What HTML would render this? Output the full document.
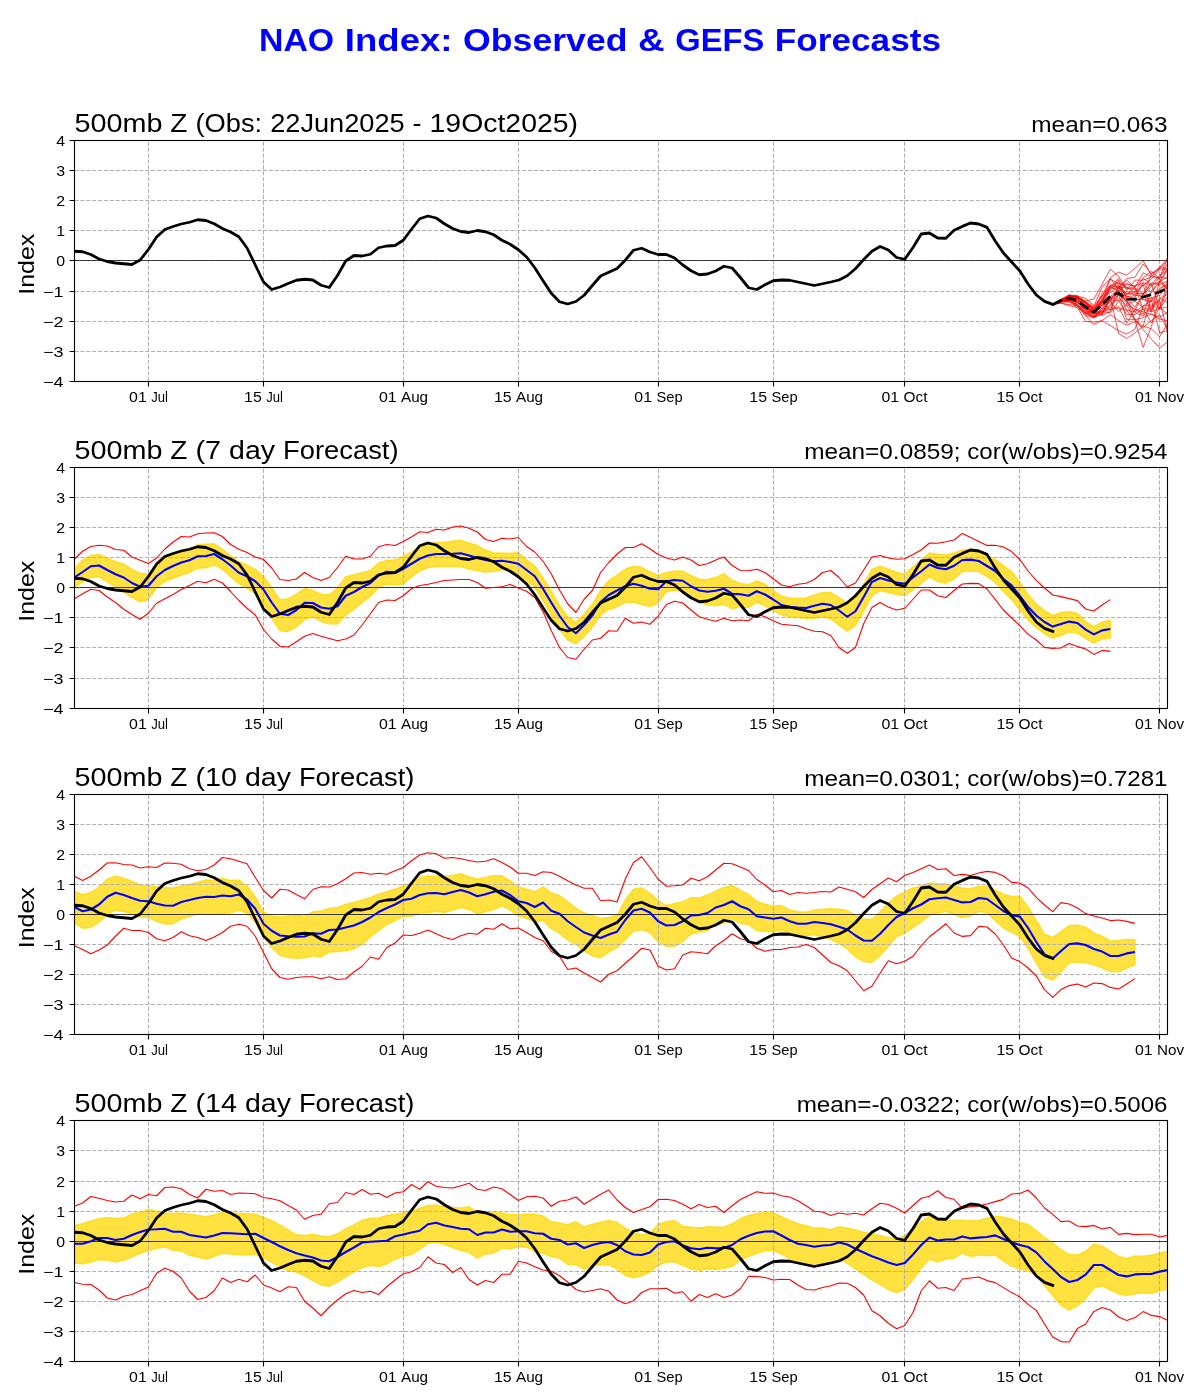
<!DOCTYPE html>
<html lang="en">
<head>
<meta charset="utf-8">
<title>NAO Index: Observed &amp; GEFS Forecasts</title>
<style>
html,body{margin:0;padding:0;background:#fff;}
body{width:1200px;height:1400px;overflow:hidden;font-family:"Liberation Sans",sans-serif;}
svg{display:block;will-change:transform;}
svg text{font-family:"Liberation Sans",sans-serif;}
</style>
</head>
<body>
<svg width="1200" height="1400" viewBox="0 0 1200 1400" font-family="Liberation Sans, sans-serif">
<rect width="1200" height="1400" fill="#fff"/>
<text y="51" font-size="31.47" font-weight="bold" fill="#0000ff"><tspan x="259.01" textLength="75.2" lengthAdjust="spacingAndGlyphs">NAO</tspan> <tspan x="344.84" textLength="107.65" lengthAdjust="spacingAndGlyphs">Index:</tspan> <tspan x="463.13" textLength="164.34" lengthAdjust="spacingAndGlyphs">Observed</tspan> <tspan x="638.1" textLength="26.65" lengthAdjust="spacingAndGlyphs">&amp;</tspan> <tspan x="675.39" textLength="88.83" lengthAdjust="spacingAndGlyphs">GEFS</tspan> <tspan x="774.86" textLength="166.13" lengthAdjust="spacingAndGlyphs">Forecasts</tspan></text>
<g>
<clipPath id="c0"><rect x="74.5" y="140.5" width="1093" height="241"/></clipPath>
<path d="M148.5 381.5 V140.5 M263.5 381.5 V140.5 M403.5 381.5 V140.5 M518.5 381.5 V140.5 M658.5 381.5 V140.5 M773.5 381.5 V140.5 M904.5 381.5 V140.5 M1019.5 381.5 V140.5 M1159.5 381.5 V140.5 M74.5 170.5H1167.5 M74.5 200.5H1167.5 M74.5 230.5H1167.5 M74.5 260.5H1167.5 M74.5 291.5H1167.5 M74.5 321.5H1167.5 M74.5 351.5H1167.5" stroke="#b0b0b0" stroke-width="1.11" stroke-dasharray="4.11 1.78" fill="none"/>
<path d="M74.5 260.5H1167.5" stroke="#000" stroke-width="0.72" fill="none"/>
<g clip-path="url(#c0)" fill="none" stroke-linejoin="round">
<path d="M1052.76 304.4 L1060.98 300.2 L1069.2 296.12 L1077.42 298.68 L1085.64 306.62 L1093.87 315.72 L1102.09 301.93 L1110.31 286.53 L1118.53 291.71 L1126.75 301.58 L1134.97 312.68 L1143.2 316.03 L1151.42 306.13 L1159.64 300.06 L1167.86 333.62" stroke="#ff0000" stroke-width="0.7"/>
<path d="M1052.76 304.4 L1060.98 299.4 L1069.2 296.26 L1077.42 297.65 L1085.64 303.26 L1093.87 308.77 L1102.09 302.54 L1110.31 300.27 L1118.53 291.78 L1126.75 283.19 L1134.97 287.34 L1143.2 272.75 L1151.42 276.57 L1159.64 266.64 L1167.86 268.97" stroke="#ff0000" stroke-width="0.7"/>
<path d="M1052.76 304.4 L1060.98 301.79 L1069.2 300.9 L1077.42 299.14 L1085.64 304.88 L1093.87 312.53 L1102.09 305.33 L1110.31 300.07 L1118.53 295.08 L1126.75 291.19 L1134.97 295.22 L1143.2 284.71 L1151.42 310.09 L1159.64 298.18 L1167.86 302.66" stroke="#ff0000" stroke-width="0.7"/>
<path d="M1052.76 304.4 L1060.98 301.76 L1069.2 299.71 L1077.42 304.87 L1085.64 313.13 L1093.87 317.28 L1102.09 308.07 L1110.31 309.37 L1118.53 306.63 L1126.75 323.19 L1134.97 309.17 L1143.2 311.84 L1151.42 314.56 L1159.64 317.42 L1167.86 311.93" stroke="#ff0000" stroke-width="0.7"/>
<path d="M1052.76 304.4 L1060.98 299.37 L1069.2 296.81 L1077.42 301.53 L1085.64 309.31 L1093.87 315.55 L1102.09 312.09 L1110.31 304.54 L1118.53 294.6 L1126.75 301.63 L1134.97 310.54 L1143.2 293.61 L1151.42 284.09 L1159.64 308.95 L1167.86 296.35" stroke="#ff0000" stroke-width="0.7"/>
<path d="M1052.76 304.4 L1060.98 303.07 L1069.2 304.62 L1077.42 305.62 L1085.64 314 L1093.87 317.63 L1102.09 307.44 L1110.31 299.99 L1118.53 300.47 L1126.75 314.56 L1134.97 314.41 L1143.2 309.05 L1151.42 322.9 L1159.64 307.26 L1167.86 314.34" stroke="#ff0000" stroke-width="0.7"/>
<path d="M1052.76 304.4 L1060.98 299.21 L1069.2 296.41 L1077.42 299.26 L1085.64 309.78 L1093.87 309.48 L1102.09 301.36 L1110.31 296.72 L1118.53 289.13 L1126.75 280.26 L1134.97 287.61 L1143.2 309.25 L1151.42 311.93 L1159.64 290.26 L1167.86 281.09" stroke="#ff0000" stroke-width="0.7"/>
<path d="M1052.76 304.4 L1060.98 303.14 L1069.2 305.72 L1077.42 307.52 L1085.64 321.49 L1093.87 322.13 L1102.09 320.77 L1110.31 325.46 L1118.53 330.76 L1126.75 334.05 L1134.97 329.1 L1143.2 305.68 L1151.42 305.02 L1159.64 308.89 L1167.86 306.76" stroke="#ff0000" stroke-width="0.7"/>
<path d="M1052.76 304.4 L1060.98 300.55 L1069.2 297.08 L1077.42 299.12 L1085.64 305.95 L1093.87 313.2 L1102.09 302.01 L1110.31 290.75 L1118.53 279.89 L1126.75 298.69 L1134.97 306.93 L1143.2 294.43 L1151.42 286.84 L1159.64 277.11 L1167.86 278.5" stroke="#ff0000" stroke-width="0.7"/>
<path d="M1052.76 304.4 L1060.98 301.81 L1069.2 296.89 L1077.42 304.4 L1085.64 313.23 L1093.87 313.1 L1102.09 314.62 L1110.31 296.81 L1118.53 333.46 L1126.75 338.5 L1134.97 332.87 L1143.2 325.98 L1151.42 297.3 L1159.64 308.78 L1167.86 288.93" stroke="#ff0000" stroke-width="0.7"/>
<path d="M1052.76 304.4 L1060.98 299.48 L1069.2 297.29 L1077.42 296.35 L1085.64 298.22 L1093.87 305.56 L1102.09 297 L1110.31 277.75 L1118.53 272.02 L1126.75 275.26 L1134.97 268.19 L1143.2 260.61 L1151.42 275.33 L1159.64 278.8 L1167.86 290.51" stroke="#ff0000" stroke-width="0.7"/>
<path d="M1052.76 304.4 L1060.98 299.74 L1069.2 295.37 L1077.42 295.53 L1085.64 303.65 L1093.87 313.46 L1102.09 311.83 L1110.31 312.65 L1118.53 301.55 L1126.75 293.97 L1134.97 291.77 L1143.2 285.21 L1151.42 279.08 L1159.64 269.02 L1167.86 259.74" stroke="#ff0000" stroke-width="0.7"/>
<path d="M1052.76 304.4 L1060.98 301.44 L1069.2 299.21 L1077.42 302.11 L1085.64 311.68 L1093.87 311.5 L1102.09 295.54 L1110.31 292.94 L1118.53 286.03 L1126.75 303.82 L1134.97 301.28 L1143.2 307.41 L1151.42 310.51 L1159.64 281.6 L1167.86 289.43" stroke="#ff0000" stroke-width="0.7"/>
<path d="M1052.76 304.4 L1060.98 299.92 L1069.2 297.85 L1077.42 301.19 L1085.64 302.41 L1093.87 306.41 L1102.09 286.96 L1110.31 279.16 L1118.53 283.51 L1126.75 284.81 L1134.97 285.72 L1143.2 283.34 L1151.42 292.54 L1159.64 281.8 L1167.86 270.42" stroke="#ff0000" stroke-width="0.7"/>
<path d="M1052.76 304.4 L1060.98 302.11 L1069.2 301.45 L1077.42 304.29 L1085.64 312.54 L1093.87 317.02 L1102.09 313.72 L1110.31 297.58 L1118.53 293.63 L1126.75 319.65 L1134.97 319.71 L1143.2 317.59 L1151.42 313.63 L1159.64 319.1 L1167.86 320.89" stroke="#ff0000" stroke-width="0.7"/>
<path d="M1052.76 304.4 L1060.98 299.85 L1069.2 296.24 L1077.42 297.38 L1085.64 302.03 L1093.87 310.33 L1102.09 293.22 L1110.31 285.47 L1118.53 282.64 L1126.75 287.62 L1134.97 289.09 L1143.2 299.64 L1151.42 297.92 L1159.64 295.45 L1167.86 283.27" stroke="#ff0000" stroke-width="0.7"/>
<path d="M1052.76 304.4 L1060.98 299.96 L1069.2 296.2 L1077.42 297.68 L1085.64 302.28 L1093.87 312.59 L1102.09 310.99 L1110.31 301.59 L1118.53 311.58 L1126.75 304.34 L1134.97 309.13 L1143.2 314.51 L1151.42 290.66 L1159.64 281.55 L1167.86 276.52" stroke="#ff0000" stroke-width="0.7"/>
<path d="M1052.76 304.4 L1060.98 302.13 L1069.2 299.94 L1077.42 301.61 L1085.64 307.35 L1093.87 312.59 L1102.09 299.2 L1110.31 288.69 L1118.53 283.77 L1126.75 299.14 L1134.97 320.91 L1143.2 347.41 L1151.42 326.46 L1159.64 298.63 L1167.86 294.09" stroke="#ff0000" stroke-width="0.7"/>
<path d="M1052.76 304.4 L1060.98 301.45 L1069.2 302.25 L1077.42 306.04 L1085.64 308.37 L1093.87 313.65 L1102.09 311.52 L1110.31 309.42 L1118.53 308.07 L1126.75 310.1 L1134.97 311.91 L1143.2 305.96 L1151.42 299.98 L1159.64 332.77 L1167.86 330.62" stroke="#ff0000" stroke-width="0.7"/>
<path d="M1052.76 304.4 L1060.98 299.77 L1069.2 294.65 L1077.42 298 L1085.64 302.17 L1093.87 307.54 L1102.09 296.05 L1110.31 285.48 L1118.53 287.97 L1126.75 287.06 L1134.97 292.6 L1143.2 277.86 L1151.42 271.17 L1159.64 278.5 L1167.86 262.78" stroke="#ff0000" stroke-width="0.7"/>
<path d="M1052.76 304.4 L1060.98 300.05 L1069.2 298.84 L1077.42 305.65 L1085.64 315.5 L1093.87 317.29 L1102.09 309.21 L1110.31 299.67 L1118.53 287.7 L1126.75 294.21 L1134.97 294.05 L1143.2 293.17 L1151.42 311.93 L1159.64 308.04 L1167.86 283.02" stroke="#ff0000" stroke-width="0.7"/>
<path d="M1052.76 304.4 L1060.98 299.58 L1069.2 295.77 L1077.42 296.25 L1085.64 301.55 L1093.87 312.36 L1102.09 299.43 L1110.31 287.37 L1118.53 289.95 L1126.75 296.73 L1134.97 295.71 L1143.2 295.1 L1151.42 273.71 L1159.64 268.82 L1167.86 270.15" stroke="#ff0000" stroke-width="0.7"/>
<path d="M1052.76 304.4 L1060.98 301.66 L1069.2 300.21 L1077.42 302.21 L1085.64 310.38 L1093.87 318.1 L1102.09 313.28 L1110.31 299.45 L1118.53 290.61 L1126.75 310.82 L1134.97 319.76 L1143.2 326.03 L1151.42 328.91 L1159.64 336.91 L1167.86 322.54" stroke="#ff0000" stroke-width="0.7"/>
<path d="M1052.76 304.4 L1060.98 299.26 L1069.2 296.61 L1077.42 297.4 L1085.64 302.73 L1093.87 308.44 L1102.09 305.56 L1110.31 287.4 L1118.53 278.59 L1126.75 290.05 L1134.97 280.14 L1143.2 280.17 L1151.42 276.98 L1159.64 277.48 L1167.86 257.7" stroke="#ff0000" stroke-width="0.7"/>
<path d="M1052.76 304.4 L1060.98 301.43 L1069.2 299.62 L1077.42 308.36 L1085.64 312.92 L1093.87 312.87 L1102.09 304.7 L1110.31 308.33 L1118.53 295.07 L1126.75 299.34 L1134.97 297.45 L1143.2 282.53 L1151.42 285.31 L1159.64 281.7 L1167.86 267.7" stroke="#ff0000" stroke-width="0.7"/>
<path d="M1052.76 304.4 L1060.98 300.34 L1069.2 295.62 L1077.42 299.28 L1085.64 305.98 L1093.87 307.59 L1102.09 300.98 L1110.31 285.3 L1118.53 287 L1126.75 296.12 L1134.97 299.4 L1143.2 299.7 L1151.42 301.84 L1159.64 288.38 L1167.86 284.35" stroke="#ff0000" stroke-width="0.7"/>
<path d="M1052.76 304.4 L1060.98 300.51 L1069.2 300.57 L1077.42 297.03 L1085.64 304.15 L1093.87 308.87 L1102.09 315.75 L1110.31 311.23 L1118.53 285.56 L1126.75 293.72 L1134.97 287.85 L1143.2 294.23 L1151.42 282.92 L1159.64 284.64 L1167.86 280.6" stroke="#ff0000" stroke-width="0.7"/>
<path d="M1052.76 304.4 L1060.98 299.6 L1069.2 295.2 L1077.42 296.6 L1085.64 301 L1093.87 298.92 L1102.09 284.34 L1110.31 269.17 L1118.53 276.17 L1126.75 289 L1134.97 286.67 L1143.2 278.5 L1151.42 284.34 L1159.64 275 L1167.86 270.33" stroke="#ff0000" stroke-width="0.7"/>
<path d="M1052.76 304.4 L1060.98 301.1 L1069.2 299.2 L1077.42 302.1 L1085.64 308 L1093.87 312 L1102.09 302 L1110.31 278.5 L1118.53 289 L1126.75 278.5 L1134.97 277.34 L1143.2 263.92 L1151.42 273.84 L1159.64 268 L1167.86 257.5" stroke="#ff0000" stroke-width="0.7"/>
<path d="M1052.76 304.4 L1060.98 301.1 L1069.2 299.2 L1077.42 302.6 L1085.64 310 L1093.87 316 L1102.09 314.67 L1110.31 305.34 L1118.53 298.34 L1126.75 305.34 L1134.97 319.34 L1143.2 329.84 L1151.42 339.17 L1159.64 347.92 L1167.86 341.51" stroke="#ff0000" stroke-width="0.7"/>
<path d="M1052.76 304.4 L1060.98 301.6 L1069.2 301.2 L1077.42 305.6 L1085.64 315.84 L1093.87 324.59 L1102.09 320.5 L1110.31 314.67 L1118.53 320.5 L1126.75 325.17 L1134.97 321.67 L1143.2 327.5 L1151.42 320.5 L1159.64 314.67 L1167.86 329.84" stroke="#ff0000" stroke-width="0.7"/>
<path d="M74.4 251.25 L82.62 251.75 L90.84 254.5 L99.06 259 L107.29 261.5 L115.51 263 L123.73 263.75 L131.95 264.5 L140.17 260 L148.39 249.5 L156.62 237 L164.84 229.5 L173.06 226.5 L181.28 224 L189.5 222.25 L197.72 219.75 L205.94 220.5 L214.17 223.75 L222.39 228.5 L230.61 232 L238.83 236.75 L247.05 248 L255.27 265 L263.49 282 L271.72 289.5 L279.94 287 L288.16 283.5 L296.38 280.25 L304.6 279.25 L312.82 280 L321.05 285.25 L329.27 287.5 L337.49 275.5 L345.71 261 L353.93 255.5 L362.15 256 L370.37 254.25 L378.6 247.75 L386.82 246 L395.04 245.5 L403.26 240.25 L411.48 229.25 L419.7 218.75 L427.92 216 L436.15 218 L444.37 223.75 L452.59 228.5 L460.81 231.5 L469.03 232.5 L477.25 230.5 L485.48 231.75 L493.7 234.75 L501.92 240.25 L510.14 244.25 L518.36 249.75 L526.58 257 L534.8 267.75 L543.03 280.75 L551.25 293.25 L559.47 301.75 L567.69 304 L575.91 301.5 L584.13 295.25 L592.35 285.5 L600.58 276 L608.8 272.25 L617.02 268.5 L625.24 260.25 L633.46 250.25 L641.68 248.25 L649.9 252 L658.13 254.5 L666.35 254.5 L674.57 258 L682.79 265 L691.01 270.75 L699.23 274.75 L707.46 274 L715.68 271 L723.9 266.25 L732.12 268 L740.34 277.5 L748.56 287.75 L756.78 289.5 L765.01 284.75 L773.23 280.75 L781.45 280 L789.67 280.25 L797.89 282 L806.11 283.75 L814.34 285.5 L822.56 283.75 L830.78 282 L839 280 L847.22 275.75 L855.44 268.75 L863.66 259.5 L871.89 251.25 L880.11 246.5 L888.33 250 L896.55 257.5 L904.77 259.25 L912.99 247.5 L921.21 234 L929.44 233 L937.66 238 L945.88 238.25 L954.1 230.25 L962.32 226.4 L970.54 223 L978.77 224 L986.99 227.4 L995.21 241 L1003.43 253 L1011.65 262 L1019.87 271 L1028.09 284 L1036.32 295 L1044.54 301.4 L1052.76 304.4" stroke="#000" stroke-width="2.8" stroke-linecap="square"/>
<path d="M1052.76 304.4 L1060.98 300.6 L1069.2 298.2 L1077.42 300.6 L1085.64 307 L1093.87 312 L1102.09 305 L1110.31 296 L1118.53 293 L1126.75 299.2 L1134.97 299.4 L1143.2 297 L1151.42 294.6 L1159.64 292 L1167.86 288" stroke="#000" stroke-width="2.8" stroke-dasharray="10.3 4.4"/>
</g>
<rect x="74.5" y="140.5" width="1093" height="241" fill="none" stroke="#000" stroke-width="1.11"/>
<path d="M148.5 381.5v4.9 M263.5 381.5v4.9 M403.5 381.5v4.9 M518.5 381.5v4.9 M658.5 381.5v4.9 M773.5 381.5v4.9 M904.5 381.5v4.9 M1019.5 381.5v4.9 M1159.5 381.5v4.9 M74.5 140.5h-4.9 M74.5 170.5h-4.9 M74.5 200.5h-4.9 M74.5 230.5h-4.9 M74.5 260.5h-4.9 M74.5 291.5h-4.9 M74.5 321.5h-4.9 M74.5 351.5h-4.9 M74.5 381.5h-4.9" stroke="#000" stroke-width="1.11" fill="none"/>
<text y="402" font-size="14.31" fill="#000"><tspan x="129.08" textLength="17.67" lengthAdjust="spacingAndGlyphs">01</tspan> <tspan x="151.17" textLength="16.76" lengthAdjust="spacingAndGlyphs">Jul</tspan></text>
<text y="402" font-size="14.31" fill="#000"><tspan x="244.08" textLength="17.67" lengthAdjust="spacingAndGlyphs">15</tspan> <tspan x="266.17" textLength="16.76" lengthAdjust="spacingAndGlyphs">Jul</tspan></text>
<text y="402" font-size="14.31" fill="#000"><tspan x="378.9" textLength="17.67" lengthAdjust="spacingAndGlyphs">01</tspan> <tspan x="400.98" textLength="27.12" lengthAdjust="spacingAndGlyphs">Aug</tspan></text>
<text y="402" font-size="14.31" fill="#000"><tspan x="493.9" textLength="17.67" lengthAdjust="spacingAndGlyphs">15</tspan> <tspan x="515.98" textLength="27.12" lengthAdjust="spacingAndGlyphs">Aug</tspan></text>
<text y="402" font-size="14.31" fill="#000"><tspan x="634.37" textLength="17.67" lengthAdjust="spacingAndGlyphs">01</tspan> <tspan x="656.46" textLength="26.18" lengthAdjust="spacingAndGlyphs">Sep</tspan></text>
<text y="402" font-size="14.31" fill="#000"><tspan x="749.37" textLength="17.67" lengthAdjust="spacingAndGlyphs">15</tspan> <tspan x="771.46" textLength="26.18" lengthAdjust="spacingAndGlyphs">Sep</tspan></text>
<text y="402" font-size="14.31" fill="#000"><tspan x="881.45" textLength="17.67" lengthAdjust="spacingAndGlyphs">01</tspan> <tspan x="903.54" textLength="24.01" lengthAdjust="spacingAndGlyphs">Oct</tspan></text>
<text y="402" font-size="14.31" fill="#000"><tspan x="996.45" textLength="17.67" lengthAdjust="spacingAndGlyphs">15</tspan> <tspan x="1018.54" textLength="24.01" lengthAdjust="spacingAndGlyphs">Oct</tspan></text>
<text y="402" font-size="14.31" fill="#000"><tspan x="1134.9" textLength="17.67" lengthAdjust="spacingAndGlyphs">01</tspan> <tspan x="1156.99" textLength="27.11" lengthAdjust="spacingAndGlyphs">Nov</tspan></text>
<text y="145.6" font-size="14.31" fill="#000"><tspan x="56.16" textLength="8.84" lengthAdjust="spacingAndGlyphs">4</tspan></text>
<text y="175.6" font-size="14.31" fill="#000"><tspan x="56.16" textLength="8.84" lengthAdjust="spacingAndGlyphs">3</tspan></text>
<text y="205.6" font-size="14.31" fill="#000"><tspan x="56.16" textLength="8.84" lengthAdjust="spacingAndGlyphs">2</tspan></text>
<text y="235.6" font-size="14.31" fill="#000"><tspan x="56.16" textLength="8.84" lengthAdjust="spacingAndGlyphs">1</tspan></text>
<text y="265.6" font-size="14.31" fill="#000"><tspan x="56.16" textLength="8.84" lengthAdjust="spacingAndGlyphs">0</tspan></text>
<text y="296.6" font-size="14.31" fill="#000"><tspan x="43.13" textLength="20.47" lengthAdjust="spacingAndGlyphs">−1</tspan></text>
<text y="326.6" font-size="14.31" fill="#000"><tspan x="43.13" textLength="20.47" lengthAdjust="spacingAndGlyphs">−2</tspan></text>
<text y="356.6" font-size="14.31" fill="#000"><tspan x="43.13" textLength="20.47" lengthAdjust="spacingAndGlyphs">−3</tspan></text>
<text y="386.6" font-size="14.31" fill="#000"><tspan x="43.13" textLength="20.47" lengthAdjust="spacingAndGlyphs">−4</tspan></text>
<text y="264.2" font-size="22.89" fill="#000" transform="rotate(-90 34 264.2)"><tspan x="3.41" textLength="61.18" lengthAdjust="spacingAndGlyphs">Index</tspan></text>
<text y="131.5" font-size="25.75" fill="#000"><tspan x="74.5" textLength="87.94" lengthAdjust="spacingAndGlyphs">500mb</tspan> <tspan x="170.39" textLength="17.13" lengthAdjust="spacingAndGlyphs">Z</tspan> <tspan x="195.46" textLength="66.75" lengthAdjust="spacingAndGlyphs">(Obs:</tspan> <tspan x="270.16" textLength="134.5" lengthAdjust="spacingAndGlyphs">22Jun2025</tspan> <tspan x="412.6" textLength="9.02" lengthAdjust="spacingAndGlyphs">-</tspan> <tspan x="429.57" textLength="148.41" lengthAdjust="spacingAndGlyphs">19Oct2025)</tspan></text>
<text y="131.5" font-size="21.46" fill="#000"><tspan x="1031.32" textLength="136.18" lengthAdjust="spacingAndGlyphs">mean=0.063</tspan></text>
</g>
<g>
<clipPath id="c1"><rect x="74.5" y="467.5" width="1093" height="241"/></clipPath>
<path d="M74.4 568.5 L82.62 560 L90.84 555.5 L99.06 554.5 L107.29 558 L115.51 561.75 L123.73 564 L131.95 569.25 L140.17 573.25 L148.39 574.25 L156.62 566 L164.84 558.5 L173.06 553.75 L181.28 550 L189.5 548.5 L197.72 544.75 L205.94 544.25 L214.17 543.75 L222.39 549.25 L230.61 555.5 L238.83 561.75 L247.05 565 L255.27 569.25 L263.49 576.25 L271.72 588 L279.94 599.75 L288.16 598.75 L296.38 594 L304.6 588.5 L312.82 590.5 L321.05 594.25 L329.27 594.75 L337.49 588 L345.71 576.75 L353.93 574.75 L362.15 572.75 L370.37 570.5 L378.6 563 L386.82 560.5 L395.04 560 L403.26 556 L411.48 551.75 L419.7 546.75 L427.92 543.5 L436.15 542.5 L444.37 542.5 L452.59 541 L460.81 540.5 L469.03 543 L477.25 545.5 L485.48 550 L493.7 553 L501.92 553 L510.14 553.5 L518.36 552.5 L526.58 559.75 L534.8 566 L543.03 578 L551.25 591 L559.47 605.5 L567.69 616.75 L575.91 622.25 L584.13 614.25 L592.35 604.25 L600.58 590.5 L608.8 580.5 L617.02 575 L625.24 569.25 L633.46 566.25 L641.68 567.25 L649.9 571.75 L658.13 575.5 L666.35 572.5 L674.57 571 L682.79 571 L691.01 575.5 L699.23 579.25 L707.46 579.75 L715.68 577.5 L723.9 573.5 L732.12 580.5 L740.34 583.5 L748.56 584.75 L756.78 581 L765.01 584.25 L773.23 590.5 L781.45 596.25 L789.67 598 L797.89 598.5 L806.11 598 L814.34 595 L822.56 592.5 L830.78 592.5 L839 597.5 L847.22 603 L855.44 598 L863.66 584.25 L871.89 569.25 L880.11 566.25 L888.33 569.25 L896.55 572.25 L904.77 574.25 L912.99 566.75 L921.21 560.5 L929.44 553 L937.66 554.25 L945.88 555 L954.1 553 L962.32 550.1 L970.54 548.9 L978.77 550.5 L986.99 554.9 L995.21 559.5 L1003.43 565.5 L1011.65 571.5 L1019.87 582.5 L1028.09 594.5 L1036.32 604.1 L1044.54 610.5 L1052.76 615.5 L1060.98 612.5 L1069.2 611.5 L1077.42 613.5 L1085.64 621.5 L1093.87 626.5 L1102.09 622.1 L1110.31 620.1 L1110.31 637.9 L1102.09 639.1 L1093.87 643.1 L1085.64 638.5 L1077.42 633.1 L1069.2 632.1 L1060.98 635.5 L1052.76 638.1 L1044.54 633.9 L1036.32 627.5 L1028.09 620.1 L1019.87 610.1 L1011.65 599.5 L1003.43 591.5 L995.21 582.5 L986.99 576.5 L978.77 571.9 L970.54 570.9 L962.32 571.5 L954.1 579 L945.88 583.25 L937.66 581.5 L929.44 577 L921.21 583.25 L912.99 589.5 L904.77 595.75 L896.55 594.5 L888.33 592.5 L880.11 590.75 L871.89 595.75 L863.66 611.25 L855.44 625.75 L847.22 631.25 L839 625.25 L830.78 619 L822.56 616.5 L814.34 618.25 L806.11 618.25 L797.89 617.5 L789.67 616.5 L781.45 615 L773.23 610.75 L765.01 605.75 L756.78 602.5 L748.56 607.5 L740.34 606.5 L732.12 608.75 L723.9 604.5 L715.68 605.75 L707.46 605 L699.23 602.5 L691.01 597.5 L682.79 591.5 L674.57 590 L666.35 591.5 L658.13 603.25 L649.9 606.5 L641.68 604.5 L633.46 602 L625.24 602.5 L617.02 607 L608.8 609.5 L600.58 615 L592.35 627 L584.13 636.5 L575.91 643.75 L567.69 640 L559.47 629.5 L551.25 615 L543.03 600.75 L534.8 587.5 L526.58 580.75 L518.36 574.5 L510.14 570.75 L501.92 569.5 L493.7 571.5 L485.48 572 L477.25 570.75 L469.03 569 L460.81 566.5 L452.59 566.25 L444.37 566.5 L436.15 566.5 L427.92 567.5 L419.7 570.75 L411.48 577 L403.26 584 L395.04 585 L386.82 584 L378.6 587.5 L370.37 596.25 L362.15 602.5 L353.93 609.5 L345.71 615 L337.49 624 L329.27 623.75 L321.05 621.5 L312.82 617 L304.6 619.5 L296.38 627 L288.16 631.5 L279.94 630.75 L271.72 618.25 L263.49 603.25 L255.27 594 L247.05 588.25 L238.83 583.75 L230.61 576.5 L222.39 569.5 L214.17 565 L205.94 567.75 L197.72 568.25 L189.5 572.5 L181.28 575 L173.06 578.25 L164.84 581.5 L156.62 587.5 L148.39 599.5 L140.17 602 L131.95 597.75 L123.73 592 L115.51 587 L107.29 582 L99.06 577 L90.84 577.5 L82.62 582 L74.4 587.5Z" fill="#ffd700" fill-opacity="0.75" stroke="#ffd700" stroke-opacity="0.75" stroke-width="1.39" stroke-linejoin="round" clip-path="url(#c1)"/>
<path d="M148.5 708.5 V467.5 M263.5 708.5 V467.5 M403.5 708.5 V467.5 M518.5 708.5 V467.5 M658.5 708.5 V467.5 M773.5 708.5 V467.5 M904.5 708.5 V467.5 M1019.5 708.5 V467.5 M1159.5 708.5 V467.5 M74.5 497.5H1167.5 M74.5 527.5H1167.5 M74.5 557.5H1167.5 M74.5 587.5H1167.5 M74.5 617.5H1167.5 M74.5 647.5H1167.5 M74.5 678.5H1167.5" stroke="#b0b0b0" stroke-width="1.11" stroke-dasharray="4.11 1.78" fill="none"/>
<path d="M74.5 587.5H1167.5" stroke="#000" stroke-width="0.72" fill="none"/>
<g clip-path="url(#c1)" fill="none" stroke-linejoin="round">
<path d="M74.4 559.25 L82.62 551.25 L90.84 546.5 L99.06 545.25 L107.29 546 L115.51 549.5 L123.73 550.25 L131.95 557 L140.17 560.25 L148.39 563.5 L156.62 558 L164.84 549 L173.06 542 L181.28 536.5 L189.5 537 L197.72 533.75 L205.94 533 L214.17 532.75 L222.39 536.5 L230.61 544.5 L238.83 549.25 L247.05 552.5 L255.27 557 L263.49 559.5 L271.72 568 L279.94 579.5 L288.16 580.5 L296.38 579 L304.6 572.5 L312.82 577.5 L321.05 580.5 L329.27 577.5 L337.49 567.5 L345.71 556.25 L353.93 559 L362.15 559 L370.37 556.25 L378.6 546.75 L386.82 544.5 L395.04 545.5 L403.26 541.5 L411.48 537 L419.7 531.75 L427.92 532.5 L436.15 529.25 L444.37 530 L452.59 527 L460.81 526 L469.03 528.25 L477.25 532 L485.48 539.5 L493.7 541.5 L501.92 538.25 L510.14 539 L518.36 537.5 L526.58 546.5 L534.8 552 L543.03 561.25 L551.25 573.75 L559.47 590 L567.69 603.75 L575.91 612.5 L584.13 599.25 L592.35 590.5 L600.58 572.5 L608.8 562.5 L617.02 554.25 L625.24 547.5 L633.46 547.5 L641.68 543.75 L649.9 548.75 L658.13 554.5 L666.35 558 L674.57 560 L682.79 557 L691.01 560 L699.23 565.5 L707.46 563.75 L715.68 560 L723.9 557 L732.12 565.5 L740.34 570.5 L748.56 570.75 L756.78 569.25 L765.01 572.5 L773.23 578.75 L781.45 585 L789.67 586.75 L797.89 584.25 L806.11 583.25 L814.34 579.5 L822.56 572.5 L830.78 570.5 L839 577.5 L847.22 587 L855.44 583 L863.66 570 L871.89 557 L880.11 555.5 L888.33 558 L896.55 559.25 L904.77 558.75 L912.99 554.5 L921.21 550 L929.44 543 L937.66 543.25 L945.88 541.75 L954.1 540 L962.32 533.4 L970.54 537.6 L978.77 541.6 L986.99 545.4 L995.21 545.2 L1003.43 547 L1011.65 551.6 L1019.87 559.6 L1028.09 571 L1036.32 580.4 L1044.54 588 L1052.76 595 L1060.98 596.6 L1069.2 598.6 L1077.42 600.6 L1085.64 609 L1093.87 611 L1102.09 605 L1110.31 599.6" stroke="#ff0000" stroke-width="1.1"/>
<path d="M74.4 598.75 L82.62 593.75 L90.84 589.25 L99.06 590.5 L107.29 597 L115.51 602.5 L123.73 609.25 L131.95 614.5 L140.17 619.25 L148.39 613.25 L156.62 603.25 L164.84 598.75 L173.06 594.5 L181.28 589.5 L189.5 585.5 L197.72 581.25 L205.94 582.75 L214.17 579.25 L222.39 583 L230.61 591.5 L238.83 600.5 L247.05 608.25 L255.27 615 L263.49 629.5 L271.72 639 L279.94 646.25 L288.16 647 L296.38 641.75 L304.6 636.25 L312.82 633.5 L321.05 636.25 L329.27 638.5 L337.49 640.75 L345.71 639 L353.93 635 L362.15 625 L370.37 613.75 L378.6 602.5 L386.82 600 L395.04 600.5 L403.26 595.75 L411.48 588.75 L419.7 585.5 L427.92 584.25 L436.15 582.5 L444.37 580.5 L452.59 580 L460.81 579.5 L469.03 579.5 L477.25 582.5 L485.48 588.25 L493.7 587.5 L501.92 586.75 L510.14 584.5 L518.36 588 L526.58 591.25 L534.8 597.5 L543.03 611.75 L551.25 630.5 L559.47 647.5 L567.69 657.5 L575.91 659.25 L584.13 649.25 L592.35 640 L600.58 638.25 L608.8 630.75 L617.02 631.25 L625.24 618.25 L633.46 623.25 L641.68 622 L649.9 624.25 L658.13 616.25 L666.35 604.5 L674.57 601.25 L682.79 603 L691.01 610 L699.23 616.75 L707.46 619.25 L715.68 621.25 L723.9 618.25 L732.12 620.75 L740.34 620 L748.56 620.75 L756.78 614.25 L765.01 616.75 L773.23 620.75 L781.45 624.25 L789.67 625 L797.89 625.75 L806.11 628.75 L814.34 631.25 L822.56 631.75 L830.78 635.5 L839 647.5 L847.22 653.25 L855.44 647.5 L863.66 623.75 L871.89 607.5 L880.11 602.5 L888.33 607 L896.55 610 L904.77 608.25 L912.99 599.25 L921.21 590 L929.44 590 L937.66 595.75 L945.88 597.5 L954.1 590.5 L962.32 584 L970.54 583.4 L978.77 583.6 L986.99 589 L995.21 599.4 L1003.43 610 L1011.65 618 L1019.87 625.6 L1028.09 634.4 L1036.32 640 L1044.54 647.4 L1052.76 648.4 L1060.98 648 L1069.2 643.4 L1077.42 646.6 L1085.64 649 L1093.87 654.4 L1102.09 650.4 L1110.31 651.4" stroke="#ff0000" stroke-width="1.1"/>
<path d="M74.4 577.5 L82.62 572 L90.84 566.25 L99.06 565.5 L107.29 570 L115.51 574.25 L123.73 577.5 L131.95 583 L140.17 586.75 L148.39 585.75 L156.62 576.25 L164.84 570 L173.06 566 L181.28 562.5 L189.5 560.25 L197.72 556.25 L205.94 556 L214.17 554 L222.39 559.25 L230.61 565.5 L238.83 572.75 L247.05 576.25 L255.27 581.25 L263.49 589.5 L271.72 602.5 L279.94 613.75 L288.16 615 L296.38 610 L304.6 602.75 L312.82 603 L321.05 607.5 L329.27 608.75 L337.49 606.25 L345.71 595.75 L353.93 592 L362.15 587 L370.37 583 L378.6 575.5 L386.82 571.75 L395.04 573 L403.26 568.75 L411.48 563.75 L419.7 558.75 L427.92 555.5 L436.15 554 L444.37 554 L452.59 553.75 L460.81 553.25 L469.03 555.5 L477.25 558 L485.48 560 L493.7 561.25 L501.92 560.75 L510.14 562 L518.36 563.75 L526.58 570 L534.8 576.25 L543.03 588.75 L551.25 602.5 L559.47 615.75 L567.69 627 L575.91 633.25 L584.13 625 L592.35 615.5 L600.58 602 L608.8 595 L617.02 590.5 L625.24 586.25 L633.46 583.75 L641.68 585.75 L649.9 588.75 L658.13 589.25 L666.35 581.25 L674.57 580 L682.79 580.75 L691.01 586.25 L699.23 590.5 L707.46 591.75 L715.68 590.75 L723.9 588.75 L732.12 593.75 L740.34 594.25 L748.56 595.75 L756.78 591.25 L765.01 594.5 L773.23 599.5 L781.45 605 L789.67 606.75 L797.89 607.5 L806.11 608 L814.34 605.75 L822.56 603.75 L830.78 605 L839 610.5 L847.22 616.75 L855.44 611.25 L863.66 597 L871.89 582 L880.11 578 L888.33 580.5 L896.55 582.5 L904.77 583.75 L912.99 577.5 L921.21 571.25 L929.44 564.5 L937.66 568 L945.88 569.25 L954.1 565.75 L962.32 560 L970.54 559.6 L978.77 561 L986.99 566 L995.21 571 L1003.43 579 L1011.65 585.4 L1019.87 596 L1028.09 607 L1036.32 615.6 L1044.54 622 L1052.76 626.6 L1060.98 624 L1069.2 621.6 L1077.42 623 L1085.64 629.6 L1093.87 634.4 L1102.09 630.4 L1110.31 629" stroke="#0000ff" stroke-width="2.1"/>
<path d="M74.4 578.25 L82.62 578.75 L90.84 581.5 L99.06 586 L107.29 588.5 L115.51 590 L123.73 590.75 L131.95 591.5 L140.17 587 L148.39 576.5 L156.62 564 L164.84 556.5 L173.06 553.5 L181.28 551 L189.5 549.25 L197.72 546.75 L205.94 547.5 L214.17 550.75 L222.39 555.5 L230.61 559 L238.83 563.75 L247.05 575 L255.27 592 L263.49 609 L271.72 616.5 L279.94 614 L288.16 610.5 L296.38 607.25 L304.6 606.25 L312.82 607 L321.05 612.25 L329.27 614.5 L337.49 602.5 L345.71 588 L353.93 582.5 L362.15 583 L370.37 581.25 L378.6 574.75 L386.82 573 L395.04 572.5 L403.26 567.25 L411.48 556.25 L419.7 545.75 L427.92 543 L436.15 545 L444.37 550.75 L452.59 555.5 L460.81 558.5 L469.03 559.5 L477.25 557.5 L485.48 558.75 L493.7 561.75 L501.92 567.25 L510.14 571.25 L518.36 576.75 L526.58 584 L534.8 594.75 L543.03 607.75 L551.25 620.25 L559.47 628.75 L567.69 631 L575.91 628.5 L584.13 622.25 L592.35 612.5 L600.58 603 L608.8 599.25 L617.02 595.5 L625.24 587.25 L633.46 577.25 L641.68 575.25 L649.9 579 L658.13 581.5 L666.35 581.5 L674.57 585 L682.79 592 L691.01 597.75 L699.23 601.75 L707.46 601 L715.68 598 L723.9 593.25 L732.12 595 L740.34 604.5 L748.56 614.75 L756.78 616.5 L765.01 611.75 L773.23 607.75 L781.45 607 L789.67 607.25 L797.89 609 L806.11 610.75 L814.34 612.5 L822.56 610.75 L830.78 609 L839 607 L847.22 602.75 L855.44 595.75 L863.66 586.5 L871.89 578.25 L880.11 573.5 L888.33 577 L896.55 584.5 L904.77 586.25 L912.99 574.5 L921.21 561 L929.44 560 L937.66 565 L945.88 565.25 L954.1 557.25 L962.32 553.4 L970.54 550 L978.77 551 L986.99 554.4 L995.21 568 L1003.43 580 L1011.65 589 L1019.87 598 L1028.09 611 L1036.32 622 L1044.54 628.4 L1052.76 631.4" stroke="#000" stroke-width="2.8" stroke-linecap="square"/>
</g>
<rect x="74.5" y="467.5" width="1093" height="241" fill="none" stroke="#000" stroke-width="1.11"/>
<path d="M148.5 708.5v4.9 M263.5 708.5v4.9 M403.5 708.5v4.9 M518.5 708.5v4.9 M658.5 708.5v4.9 M773.5 708.5v4.9 M904.5 708.5v4.9 M1019.5 708.5v4.9 M1159.5 708.5v4.9 M74.5 467.5h-4.9 M74.5 497.5h-4.9 M74.5 527.5h-4.9 M74.5 557.5h-4.9 M74.5 587.5h-4.9 M74.5 617.5h-4.9 M74.5 647.5h-4.9 M74.5 678.5h-4.9 M74.5 708.5h-4.9" stroke="#000" stroke-width="1.11" fill="none"/>
<text y="729" font-size="14.31" fill="#000"><tspan x="129.08" textLength="17.67" lengthAdjust="spacingAndGlyphs">01</tspan> <tspan x="151.17" textLength="16.76" lengthAdjust="spacingAndGlyphs">Jul</tspan></text>
<text y="729" font-size="14.31" fill="#000"><tspan x="244.08" textLength="17.67" lengthAdjust="spacingAndGlyphs">15</tspan> <tspan x="266.17" textLength="16.76" lengthAdjust="spacingAndGlyphs">Jul</tspan></text>
<text y="729" font-size="14.31" fill="#000"><tspan x="378.9" textLength="17.67" lengthAdjust="spacingAndGlyphs">01</tspan> <tspan x="400.98" textLength="27.12" lengthAdjust="spacingAndGlyphs">Aug</tspan></text>
<text y="729" font-size="14.31" fill="#000"><tspan x="493.9" textLength="17.67" lengthAdjust="spacingAndGlyphs">15</tspan> <tspan x="515.98" textLength="27.12" lengthAdjust="spacingAndGlyphs">Aug</tspan></text>
<text y="729" font-size="14.31" fill="#000"><tspan x="634.37" textLength="17.67" lengthAdjust="spacingAndGlyphs">01</tspan> <tspan x="656.46" textLength="26.18" lengthAdjust="spacingAndGlyphs">Sep</tspan></text>
<text y="729" font-size="14.31" fill="#000"><tspan x="749.37" textLength="17.67" lengthAdjust="spacingAndGlyphs">15</tspan> <tspan x="771.46" textLength="26.18" lengthAdjust="spacingAndGlyphs">Sep</tspan></text>
<text y="729" font-size="14.31" fill="#000"><tspan x="881.45" textLength="17.67" lengthAdjust="spacingAndGlyphs">01</tspan> <tspan x="903.54" textLength="24.01" lengthAdjust="spacingAndGlyphs">Oct</tspan></text>
<text y="729" font-size="14.31" fill="#000"><tspan x="996.45" textLength="17.67" lengthAdjust="spacingAndGlyphs">15</tspan> <tspan x="1018.54" textLength="24.01" lengthAdjust="spacingAndGlyphs">Oct</tspan></text>
<text y="729" font-size="14.31" fill="#000"><tspan x="1134.9" textLength="17.67" lengthAdjust="spacingAndGlyphs">01</tspan> <tspan x="1156.99" textLength="27.11" lengthAdjust="spacingAndGlyphs">Nov</tspan></text>
<text y="472.6" font-size="14.31" fill="#000"><tspan x="56.16" textLength="8.84" lengthAdjust="spacingAndGlyphs">4</tspan></text>
<text y="502.6" font-size="14.31" fill="#000"><tspan x="56.16" textLength="8.84" lengthAdjust="spacingAndGlyphs">3</tspan></text>
<text y="532.6" font-size="14.31" fill="#000"><tspan x="56.16" textLength="8.84" lengthAdjust="spacingAndGlyphs">2</tspan></text>
<text y="562.6" font-size="14.31" fill="#000"><tspan x="56.16" textLength="8.84" lengthAdjust="spacingAndGlyphs">1</tspan></text>
<text y="592.6" font-size="14.31" fill="#000"><tspan x="56.16" textLength="8.84" lengthAdjust="spacingAndGlyphs">0</tspan></text>
<text y="622.6" font-size="14.31" fill="#000"><tspan x="43.13" textLength="20.47" lengthAdjust="spacingAndGlyphs">−1</tspan></text>
<text y="652.6" font-size="14.31" fill="#000"><tspan x="43.13" textLength="20.47" lengthAdjust="spacingAndGlyphs">−2</tspan></text>
<text y="683.6" font-size="14.31" fill="#000"><tspan x="43.13" textLength="20.47" lengthAdjust="spacingAndGlyphs">−3</tspan></text>
<text y="713.6" font-size="14.31" fill="#000"><tspan x="43.13" textLength="20.47" lengthAdjust="spacingAndGlyphs">−4</tspan></text>
<text y="591.2" font-size="22.89" fill="#000" transform="rotate(-90 34 591.2)"><tspan x="3.41" textLength="61.18" lengthAdjust="spacingAndGlyphs">Index</tspan></text>
<text y="458.5" font-size="25.75" fill="#000"><tspan x="74.5" textLength="87.94" lengthAdjust="spacingAndGlyphs">500mb</tspan> <tspan x="170.39" textLength="17.13" lengthAdjust="spacingAndGlyphs">Z</tspan> <tspan x="195.46" textLength="25.66" lengthAdjust="spacingAndGlyphs">(7</tspan> <tspan x="229.07" textLength="45.98" lengthAdjust="spacingAndGlyphs">day</tspan> <tspan x="283" textLength="115.54" lengthAdjust="spacingAndGlyphs">Forecast)</tspan></text>
<text y="458.5" font-size="21.46" fill="#000"><tspan x="804.17" textLength="156.45" lengthAdjust="spacingAndGlyphs">mean=0.0859;</tspan> <tspan x="967.24" textLength="200.26" lengthAdjust="spacingAndGlyphs">cor(w/obs)=0.9254</tspan></text>
</g>
<g>
<clipPath id="c2"><rect x="74.5" y="794.5" width="1093" height="240"/></clipPath>
<path d="M74.4 891.25 L82.62 894.75 L90.84 892.5 L99.06 886.75 L107.29 879.25 L115.51 876.25 L123.73 878.5 L131.95 881.25 L140.17 885 L148.39 885.5 L156.62 886.75 L164.84 887.5 L173.06 888 L181.28 886 L189.5 884.25 L197.72 882.25 L205.94 880 L214.17 880.5 L222.39 878.5 L230.61 880.5 L238.83 880 L247.05 886 L255.27 896.75 L263.49 911.75 L271.72 916 L279.94 916.75 L288.16 916 L296.38 915.5 L304.6 916.25 L312.82 911.75 L321.05 911 L329.27 908.5 L337.49 907.5 L345.71 904.25 L353.93 902.5 L362.15 900 L370.37 897.5 L378.6 894.25 L386.82 891.75 L395.04 889.25 L403.26 886 L411.48 883 L419.7 877.5 L427.92 876 L436.15 876.75 L444.37 876.25 L452.59 875.5 L460.81 873.75 L469.03 876.75 L477.25 879.25 L485.48 877.5 L493.7 875.5 L501.92 876 L510.14 880.5 L518.36 886.75 L526.58 889.25 L534.8 891.75 L543.03 886.75 L551.25 893 L559.47 895.5 L567.69 901.75 L575.91 908 L584.13 913 L592.35 915.5 L600.58 918.5 L608.8 917.5 L617.02 915.5 L625.24 900 L633.46 889.25 L641.68 888 L649.9 893 L658.13 900.5 L666.35 905.5 L674.57 903.5 L682.79 901.75 L691.01 897.5 L699.23 898 L707.46 895 L715.68 891 L723.9 887.5 L732.12 885.5 L740.34 890 L748.56 894.25 L756.78 901.25 L765.01 904.25 L773.23 906 L781.45 905.5 L789.67 910 L797.89 911.75 L806.11 912.25 L814.34 910 L822.56 909.25 L830.78 908.75 L839 909.25 L847.22 910.5 L855.44 915 L863.66 919.25 L871.89 919.25 L880.11 911.75 L888.33 903 L896.55 896 L904.77 891.75 L912.99 888 L921.21 886 L929.44 883 L937.66 883.5 L945.88 883.75 L954.1 886 L962.32 888.1 L970.54 888.9 L978.77 886.1 L986.99 886.5 L995.21 889.9 L1003.43 894.1 L1011.65 896.5 L1019.87 896.1 L1028.09 906.9 L1036.32 920.5 L1044.54 934.1 L1052.76 937.5 L1060.98 931.5 L1069.2 925.5 L1077.42 925.1 L1085.64 927.1 L1093.87 933.1 L1102.09 936.1 L1110.31 940.9 L1118.53 940.5 L1126.75 939.5 L1134.97 939.5 L1134.97 965.1 L1126.75 967.9 L1118.53 971.9 L1110.31 971.5 L1102.09 967.9 L1093.87 964.9 L1085.64 962.5 L1077.42 962.1 L1069.2 963.1 L1060.98 971.9 L1052.76 980.1 L1044.54 976.9 L1036.32 963.1 L1028.09 948.5 L1019.87 936.5 L1011.65 932.5 L1003.43 927.9 L995.21 920.5 L986.99 912.5 L978.77 911.5 L970.54 915.9 L962.32 917.5 L954.1 914.5 L945.88 911.5 L937.66 913.25 L929.44 915.25 L921.21 922 L912.99 927.5 L904.77 933.25 L896.55 936.5 L888.33 946.5 L880.11 955.75 L871.89 962.5 L863.66 961.5 L855.44 957 L847.22 949 L839 943.75 L830.78 939.5 L822.56 937 L814.34 934.5 L806.11 935.75 L797.89 935.25 L789.67 933.25 L781.45 930 L773.23 932 L765.01 931.25 L756.78 930.75 L748.56 924.5 L740.34 923.25 L732.12 918.75 L723.9 923.25 L715.68 924.5 L707.46 930.75 L699.23 932 L691.01 934 L682.79 941.5 L674.57 946.25 L666.35 946.5 L658.13 942 L649.9 932.5 L641.68 929.5 L633.46 931.25 L625.24 939.5 L617.02 947.75 L608.8 952 L600.58 957.75 L592.35 955.75 L584.13 951.25 L575.91 944.5 L567.69 940.25 L559.47 933.25 L551.25 928.75 L543.03 920 L534.8 922.5 L526.58 918.25 L518.36 915.75 L510.14 910 L501.92 905.75 L493.7 909.5 L485.48 911.5 L477.25 914 L469.03 909.5 L460.81 907.5 L452.59 910 L444.37 912.5 L436.15 911.5 L427.92 912.5 L419.7 912.75 L411.48 916.25 L403.26 916.5 L395.04 920.75 L386.82 924.5 L378.6 930.75 L370.37 937 L362.15 944.5 L353.93 949 L345.71 950.75 L337.49 951.5 L329.27 952 L321.05 957 L312.82 955.75 L304.6 957.75 L296.38 958.25 L288.16 957.5 L279.94 955.25 L271.72 947.5 L263.49 937 L255.27 922 L247.05 913.25 L238.83 910 L230.61 912.75 L222.39 914 L214.17 914.5 L205.94 914.5 L197.72 914 L189.5 916.5 L181.28 919 L173.06 924 L164.84 924 L156.62 921.25 L148.39 917.5 L140.17 917 L131.95 914 L123.73 911.5 L115.51 910 L107.29 914.5 L99.06 922.5 L90.84 927.5 L82.62 928.25 L74.4 923.25Z" fill="#ffd700" fill-opacity="0.75" stroke="#ffd700" stroke-opacity="0.75" stroke-width="1.39" stroke-linejoin="round" clip-path="url(#c2)"/>
<path d="M148.5 1034.5 V794.5 M263.5 1034.5 V794.5 M403.5 1034.5 V794.5 M518.5 1034.5 V794.5 M658.5 1034.5 V794.5 M773.5 1034.5 V794.5 M904.5 1034.5 V794.5 M1019.5 1034.5 V794.5 M1159.5 1034.5 V794.5 M74.5 824.5H1167.5 M74.5 854.5H1167.5 M74.5 884.5H1167.5 M74.5 914.5H1167.5 M74.5 944.5H1167.5 M74.5 974.5H1167.5 M74.5 1004.5H1167.5" stroke="#b0b0b0" stroke-width="1.11" stroke-dasharray="4.11 1.78" fill="none"/>
<path d="M74.5 914.5H1167.5" stroke="#000" stroke-width="0.72" fill="none"/>
<g clip-path="url(#c2)" fill="none" stroke-linejoin="round">
<path d="M74.4 876.25 L82.62 880.5 L90.84 876.25 L99.06 870 L107.29 863 L115.51 862.75 L123.73 864.5 L131.95 865 L140.17 868 L148.39 866.75 L156.62 867.5 L164.84 863 L173.06 863.25 L181.28 864.25 L189.5 868.75 L197.72 870.75 L205.94 869.5 L214.17 865 L222.39 857.5 L230.61 858.75 L238.83 861.25 L247.05 863.75 L255.27 877.5 L263.49 890.5 L271.72 898 L279.94 889.25 L288.16 890 L296.38 894.5 L304.6 898.75 L312.82 889.5 L321.05 886.75 L329.27 887 L337.49 883.75 L345.71 878.75 L353.93 873 L362.15 872.5 L370.37 874.25 L378.6 873.25 L386.82 874.25 L395.04 870.75 L403.26 867.5 L411.48 860.75 L419.7 855 L427.92 852.75 L436.15 853.75 L444.37 858.25 L452.59 857.5 L460.81 858.75 L469.03 860.5 L477.25 862 L485.48 861.25 L493.7 858.75 L501.92 862.5 L510.14 867 L518.36 873.25 L526.58 873.25 L534.8 875.5 L543.03 871.75 L551.25 872.5 L559.47 876.25 L567.69 880.75 L575.91 885 L584.13 888.25 L592.35 888.25 L600.58 900.75 L608.8 900 L617.02 902 L625.24 879.25 L633.46 862.5 L641.68 856.75 L649.9 867.5 L658.13 879.25 L666.35 886.25 L674.57 885.75 L682.79 885 L691.01 878.25 L699.23 880.75 L707.46 876.75 L715.68 870 L723.9 863.25 L732.12 863.75 L740.34 867 L748.56 870.5 L756.78 879.5 L765.01 885 L773.23 891.75 L781.45 890.5 L789.67 894.5 L797.89 892.5 L806.11 893.25 L814.34 892.5 L822.56 891.5 L830.78 892 L839 887 L847.22 889.25 L855.44 891.75 L863.66 897.5 L871.89 889.5 L880.11 883.75 L888.33 878 L896.55 881.75 L904.77 875.5 L912.99 872.5 L921.21 868.75 L929.44 865 L937.66 869.5 L945.88 868.75 L954.1 875.5 L962.32 874.4 L970.54 875.6 L978.77 873 L986.99 871.4 L995.21 872.4 L1003.43 876 L1011.65 882.4 L1019.87 883 L1028.09 888 L1036.32 897.4 L1044.54 905 L1052.76 911.6 L1060.98 902.6 L1069.2 904 L1077.42 908 L1085.64 913.6 L1093.87 916 L1102.09 918 L1110.31 920.6 L1118.53 920 L1126.75 921.4 L1134.97 923.4" stroke="#ff0000" stroke-width="1.1"/>
<path d="M74.4 945.75 L82.62 949.5 L90.84 953.75 L99.06 950 L107.29 945 L115.51 936.25 L123.73 928.25 L131.95 930.5 L140.17 930.5 L148.39 932.5 L156.62 938.75 L164.84 940.75 L173.06 937.5 L181.28 931.75 L189.5 935.75 L197.72 937.5 L205.94 940.5 L214.17 937 L222.39 932.5 L230.61 926.25 L238.83 924.25 L247.05 926.25 L255.27 936.25 L263.49 952.5 L271.72 968.75 L279.94 977.5 L288.16 979.25 L296.38 977.5 L304.6 976.75 L312.82 976.75 L321.05 978.75 L329.27 976.75 L337.49 979.5 L345.71 978.75 L353.93 972 L362.15 966.25 L370.37 957 L378.6 959.25 L386.82 947.5 L395.04 943 L403.26 935 L411.48 935.5 L419.7 933.25 L427.92 930 L436.15 933.75 L444.37 937.5 L452.59 939.5 L460.81 935.75 L469.03 933.25 L477.25 934.25 L485.48 928.25 L493.7 929.25 L501.92 923.75 L510.14 928.75 L518.36 928 L526.58 932.5 L534.8 937.5 L543.03 940.75 L551.25 951.25 L559.47 956.25 L567.69 969.5 L575.91 968 L584.13 973 L592.35 977.5 L600.58 982 L608.8 974.25 L617.02 970.75 L625.24 963.25 L633.46 956.25 L641.68 948.25 L649.9 950 L658.13 966.25 L666.35 970 L674.57 968.75 L682.79 955 L691.01 951.75 L699.23 952.5 L707.46 953.75 L715.68 945.75 L723.9 940.5 L732.12 933.75 L740.34 938.75 L748.56 940.75 L756.78 948.25 L765.01 951.25 L773.23 949.5 L781.45 949.5 L789.67 947.5 L797.89 947 L806.11 944.5 L814.34 947.5 L822.56 955 L830.78 962.5 L839 965.75 L847.22 970.75 L855.44 980.75 L863.66 990.75 L871.89 986.25 L880.11 973.25 L888.33 960.75 L896.55 963.75 L904.77 961.25 L912.99 956.25 L921.21 945.75 L929.44 936.75 L937.66 930.5 L945.88 923.75 L954.1 933 L962.32 936.4 L970.54 935.6 L978.77 926.4 L986.99 927 L995.21 934 L1003.43 945 L1011.65 958 L1019.87 961.6 L1028.09 968 L1036.32 976 L1044.54 989.6 L1052.76 997.4 L1060.98 989.6 L1069.2 985.6 L1077.42 984 L1085.64 987 L1093.87 983 L1102.09 983.6 L1110.31 987.4 L1118.53 989 L1126.75 984 L1134.97 978.6" stroke="#ff0000" stroke-width="1.1"/>
<path d="M74.4 907 L82.62 911.25 L90.84 909.5 L99.06 904.5 L107.29 896.75 L115.51 892.75 L123.73 895 L131.95 898 L140.17 900.75 L148.39 901.25 L156.62 903.75 L164.84 905.5 L173.06 905.75 L181.28 902 L189.5 900 L197.72 898 L205.94 896.75 L214.17 897 L222.39 895.5 L230.61 896.25 L238.83 894.5 L247.05 899.5 L255.27 908.75 L263.49 923.75 L271.72 930.75 L279.94 935.5 L288.16 936.25 L296.38 936.75 L304.6 936.5 L312.82 933.25 L321.05 933.75 L329.27 930 L337.49 929.5 L345.71 927.5 L353.93 925.5 L362.15 922 L370.37 917.5 L378.6 912 L386.82 908 L395.04 904.5 L403.26 900 L411.48 898.75 L419.7 895 L427.92 893.25 L436.15 893 L444.37 894.25 L452.59 892 L460.81 890 L469.03 892.5 L477.25 896.25 L485.48 894.25 L493.7 891.75 L501.92 890.5 L510.14 895 L518.36 901.25 L526.58 903 L534.8 907 L543.03 902.5 L551.25 910.75 L559.47 913.75 L567.69 921.25 L575.91 927 L584.13 932.5 L592.35 935.5 L600.58 938 L608.8 934.5 L617.02 931.75 L625.24 920 L633.46 910.5 L641.68 908.75 L649.9 912.5 L658.13 921.25 L666.35 925.5 L674.57 925 L682.79 921.25 L691.01 915.5 L699.23 915 L707.46 913 L715.68 907.5 L723.9 905 L732.12 901.25 L740.34 906.25 L748.56 909.25 L756.78 916.25 L765.01 917.5 L773.23 918.75 L781.45 917.5 L789.67 921.25 L797.89 923.75 L806.11 923.75 L814.34 922 L822.56 923 L830.78 924.25 L839 926.75 L847.22 929.5 L855.44 935.5 L863.66 940.5 L871.89 940.75 L880.11 933.75 L888.33 925 L896.55 917 L904.77 913 L912.99 908.25 L921.21 904.5 L929.44 899.25 L937.66 898.25 L945.88 897.5 L954.1 900 L962.32 902.4 L970.54 902 L978.77 898 L986.99 899 L995.21 905 L1003.43 911 L1011.65 915 L1019.87 916.6 L1028.09 928 L1036.32 942 L1044.54 954.4 L1052.76 958.6 L1060.98 951 L1069.2 944 L1077.42 943.4 L1085.64 945 L1093.87 949 L1102.09 951.6 L1110.31 956 L1118.53 956 L1126.75 953.4 L1134.97 952" stroke="#0000ff" stroke-width="2.1"/>
<path d="M74.4 905.25 L82.62 905.75 L90.84 908.5 L99.06 913 L107.29 915.5 L115.51 917 L123.73 917.75 L131.95 918.5 L140.17 914 L148.39 903.5 L156.62 891 L164.84 883.5 L173.06 880.5 L181.28 878 L189.5 876.25 L197.72 873.75 L205.94 874.5 L214.17 877.75 L222.39 882.5 L230.61 886 L238.83 890.75 L247.05 902 L255.27 919 L263.49 936 L271.72 943.5 L279.94 941 L288.16 937.5 L296.38 934.25 L304.6 933.25 L312.82 934 L321.05 939.25 L329.27 941.5 L337.49 929.5 L345.71 915 L353.93 909.5 L362.15 910 L370.37 908.25 L378.6 901.75 L386.82 900 L395.04 899.5 L403.26 894.25 L411.48 883.25 L419.7 872.75 L427.92 870 L436.15 872 L444.37 877.75 L452.59 882.5 L460.81 885.5 L469.03 886.5 L477.25 884.5 L485.48 885.75 L493.7 888.75 L501.92 894.25 L510.14 898.25 L518.36 903.75 L526.58 911 L534.8 921.75 L543.03 934.75 L551.25 947.25 L559.47 955.75 L567.69 958 L575.91 955.5 L584.13 949.25 L592.35 939.5 L600.58 930 L608.8 926.25 L617.02 922.5 L625.24 914.25 L633.46 904.25 L641.68 902.25 L649.9 906 L658.13 908.5 L666.35 908.5 L674.57 912 L682.79 919 L691.01 924.75 L699.23 928.75 L707.46 928 L715.68 925 L723.9 920.25 L732.12 922 L740.34 931.5 L748.56 941.75 L756.78 943.5 L765.01 938.75 L773.23 934.75 L781.45 934 L789.67 934.25 L797.89 936 L806.11 937.75 L814.34 939.5 L822.56 937.75 L830.78 936 L839 934 L847.22 929.75 L855.44 922.75 L863.66 913.5 L871.89 905.25 L880.11 900.5 L888.33 904 L896.55 911.5 L904.77 913.25 L912.99 901.5 L921.21 888 L929.44 887 L937.66 892 L945.88 892.25 L954.1 884.25 L962.32 880.4 L970.54 877 L978.77 878 L986.99 881.4 L995.21 895 L1003.43 907 L1011.65 916 L1019.87 925 L1028.09 938 L1036.32 949 L1044.54 955.4 L1052.76 958.4" stroke="#000" stroke-width="2.8" stroke-linecap="square"/>
</g>
<rect x="74.5" y="794.5" width="1093" height="240" fill="none" stroke="#000" stroke-width="1.11"/>
<path d="M148.5 1034.5v4.9 M263.5 1034.5v4.9 M403.5 1034.5v4.9 M518.5 1034.5v4.9 M658.5 1034.5v4.9 M773.5 1034.5v4.9 M904.5 1034.5v4.9 M1019.5 1034.5v4.9 M1159.5 1034.5v4.9 M74.5 794.5h-4.9 M74.5 824.5h-4.9 M74.5 854.5h-4.9 M74.5 884.5h-4.9 M74.5 914.5h-4.9 M74.5 944.5h-4.9 M74.5 974.5h-4.9 M74.5 1004.5h-4.9 M74.5 1034.5h-4.9" stroke="#000" stroke-width="1.11" fill="none"/>
<text y="1055" font-size="14.31" fill="#000"><tspan x="129.08" textLength="17.67" lengthAdjust="spacingAndGlyphs">01</tspan> <tspan x="151.17" textLength="16.76" lengthAdjust="spacingAndGlyphs">Jul</tspan></text>
<text y="1055" font-size="14.31" fill="#000"><tspan x="244.08" textLength="17.67" lengthAdjust="spacingAndGlyphs">15</tspan> <tspan x="266.17" textLength="16.76" lengthAdjust="spacingAndGlyphs">Jul</tspan></text>
<text y="1055" font-size="14.31" fill="#000"><tspan x="378.9" textLength="17.67" lengthAdjust="spacingAndGlyphs">01</tspan> <tspan x="400.98" textLength="27.12" lengthAdjust="spacingAndGlyphs">Aug</tspan></text>
<text y="1055" font-size="14.31" fill="#000"><tspan x="493.9" textLength="17.67" lengthAdjust="spacingAndGlyphs">15</tspan> <tspan x="515.98" textLength="27.12" lengthAdjust="spacingAndGlyphs">Aug</tspan></text>
<text y="1055" font-size="14.31" fill="#000"><tspan x="634.37" textLength="17.67" lengthAdjust="spacingAndGlyphs">01</tspan> <tspan x="656.46" textLength="26.18" lengthAdjust="spacingAndGlyphs">Sep</tspan></text>
<text y="1055" font-size="14.31" fill="#000"><tspan x="749.37" textLength="17.67" lengthAdjust="spacingAndGlyphs">15</tspan> <tspan x="771.46" textLength="26.18" lengthAdjust="spacingAndGlyphs">Sep</tspan></text>
<text y="1055" font-size="14.31" fill="#000"><tspan x="881.45" textLength="17.67" lengthAdjust="spacingAndGlyphs">01</tspan> <tspan x="903.54" textLength="24.01" lengthAdjust="spacingAndGlyphs">Oct</tspan></text>
<text y="1055" font-size="14.31" fill="#000"><tspan x="996.45" textLength="17.67" lengthAdjust="spacingAndGlyphs">15</tspan> <tspan x="1018.54" textLength="24.01" lengthAdjust="spacingAndGlyphs">Oct</tspan></text>
<text y="1055" font-size="14.31" fill="#000"><tspan x="1134.9" textLength="17.67" lengthAdjust="spacingAndGlyphs">01</tspan> <tspan x="1156.99" textLength="27.11" lengthAdjust="spacingAndGlyphs">Nov</tspan></text>
<text y="799.6" font-size="14.31" fill="#000"><tspan x="56.16" textLength="8.84" lengthAdjust="spacingAndGlyphs">4</tspan></text>
<text y="829.6" font-size="14.31" fill="#000"><tspan x="56.16" textLength="8.84" lengthAdjust="spacingAndGlyphs">3</tspan></text>
<text y="859.6" font-size="14.31" fill="#000"><tspan x="56.16" textLength="8.84" lengthAdjust="spacingAndGlyphs">2</tspan></text>
<text y="889.6" font-size="14.31" fill="#000"><tspan x="56.16" textLength="8.84" lengthAdjust="spacingAndGlyphs">1</tspan></text>
<text y="919.6" font-size="14.31" fill="#000"><tspan x="56.16" textLength="8.84" lengthAdjust="spacingAndGlyphs">0</tspan></text>
<text y="949.6" font-size="14.31" fill="#000"><tspan x="43.13" textLength="20.47" lengthAdjust="spacingAndGlyphs">−1</tspan></text>
<text y="979.6" font-size="14.31" fill="#000"><tspan x="43.13" textLength="20.47" lengthAdjust="spacingAndGlyphs">−2</tspan></text>
<text y="1009.6" font-size="14.31" fill="#000"><tspan x="43.13" textLength="20.47" lengthAdjust="spacingAndGlyphs">−3</tspan></text>
<text y="1039.6" font-size="14.31" fill="#000"><tspan x="43.13" textLength="20.47" lengthAdjust="spacingAndGlyphs">−4</tspan></text>
<text y="917.7" font-size="22.89" fill="#000" transform="rotate(-90 34 917.7)"><tspan x="3.41" textLength="61.18" lengthAdjust="spacingAndGlyphs">Index</tspan></text>
<text y="785.5" font-size="25.75" fill="#000"><tspan x="74.5" textLength="87.94" lengthAdjust="spacingAndGlyphs">500mb</tspan> <tspan x="170.39" textLength="17.13" lengthAdjust="spacingAndGlyphs">Z</tspan> <tspan x="195.46" textLength="41.57" lengthAdjust="spacingAndGlyphs">(10</tspan> <tspan x="244.97" textLength="45.98" lengthAdjust="spacingAndGlyphs">day</tspan> <tspan x="298.9" textLength="115.54" lengthAdjust="spacingAndGlyphs">Forecast)</tspan></text>
<text y="785.5" font-size="21.46" fill="#000"><tspan x="804.17" textLength="156.45" lengthAdjust="spacingAndGlyphs">mean=0.0301;</tspan> <tspan x="967.24" textLength="200.26" lengthAdjust="spacingAndGlyphs">cor(w/obs)=0.7281</tspan></text>
</g>
<g>
<clipPath id="c3"><rect x="74.5" y="1120.5" width="1093" height="241"/></clipPath>
<path d="M74.4 1225.5 L82.62 1223.75 L90.84 1221 L99.06 1218.75 L107.29 1217.5 L115.51 1218.5 L123.73 1218 L131.95 1213.75 L140.17 1212.5 L148.39 1209.25 L156.62 1211.25 L164.84 1213 L173.06 1213.5 L181.28 1213 L189.5 1214.25 L197.72 1215.5 L205.94 1216.75 L214.17 1214.75 L222.39 1212.5 L230.61 1213 L238.83 1213.5 L247.05 1213.5 L255.27 1214.25 L263.49 1217.5 L271.72 1220.5 L279.94 1225 L288.16 1229.75 L296.38 1234.75 L304.6 1235.5 L312.82 1234.25 L321.05 1236 L329.27 1236.75 L337.49 1233.75 L345.71 1228.75 L353.93 1224.75 L362.15 1220 L370.37 1218.5 L378.6 1218 L386.82 1215.5 L395.04 1214.25 L403.26 1213 L411.48 1211.25 L419.7 1208.5 L427.92 1205.5 L436.15 1205 L444.37 1206.75 L452.59 1207.5 L460.81 1208 L469.03 1206.75 L477.25 1211.75 L485.48 1212.5 L493.7 1212.25 L501.92 1213 L510.14 1214.75 L518.36 1214.75 L526.58 1214.25 L534.8 1214.25 L543.03 1216 L551.25 1221.75 L559.47 1223 L567.69 1224.75 L575.91 1221.75 L584.13 1226.75 L592.35 1224.25 L600.58 1222.25 L608.8 1220.5 L617.02 1222.25 L625.24 1228 L633.46 1232.5 L641.68 1235 L649.9 1233.5 L658.13 1224.25 L666.35 1221.75 L674.57 1220.5 L682.79 1226.25 L691.01 1227.25 L699.23 1228 L707.46 1226.75 L715.68 1227 L723.9 1227.25 L732.12 1223.75 L740.34 1218.75 L748.56 1215.5 L756.78 1213.5 L765.01 1212.5 L773.23 1213 L781.45 1216.75 L789.67 1220.5 L797.89 1223.75 L806.11 1226 L814.34 1228 L822.56 1228 L830.78 1229.75 L839 1226.75 L847.22 1228 L855.44 1230 L863.66 1232.25 L871.89 1234.25 L880.11 1235.5 L888.33 1237.5 L896.55 1239.25 L904.77 1235.5 L912.99 1228.75 L921.21 1221.75 L929.44 1216.25 L937.66 1219.25 L945.88 1220 L954.1 1220.5 L962.32 1220.1 L970.54 1220.9 L978.77 1220.5 L986.99 1218.1 L995.21 1216.1 L1003.43 1217.1 L1011.65 1219.1 L1019.87 1222.1 L1028.09 1224.5 L1036.32 1230.5 L1044.54 1237.5 L1052.76 1242.9 L1060.98 1249.5 L1069.2 1254.5 L1077.42 1254.9 L1085.64 1251.5 L1093.87 1243.9 L1102.09 1245.9 L1110.31 1251.1 L1118.53 1256.5 L1126.75 1258.5 L1134.97 1255.9 L1143.2 1256.1 L1151.42 1254.9 L1159.64 1253.1 L1167.86 1251.1 L1167.86 1289.1 L1159.64 1290.9 L1151.42 1293.5 L1143.2 1292.9 L1134.97 1293.9 L1126.75 1295.5 L1118.53 1293.9 L1110.31 1289.9 L1102.09 1286.1 L1093.87 1288.1 L1085.64 1298.5 L1077.42 1306.1 L1069.2 1310.1 L1060.98 1305.5 L1052.76 1295.5 L1044.54 1285.5 L1036.32 1275.5 L1028.09 1270.5 L1019.87 1269.1 L1011.65 1266.1 L1003.43 1260.9 L995.21 1255.1 L986.99 1255.9 L978.77 1255.1 L970.54 1256.5 L962.32 1253.1 L954.1 1258.25 L945.88 1259 L937.66 1262 L929.44 1259 L921.21 1268.25 L912.99 1279.5 L904.77 1289.5 L896.55 1292.5 L888.33 1289.5 L880.11 1284.5 L871.89 1280 L863.66 1274.5 L855.44 1269 L847.22 1263.25 L839 1259 L830.78 1262 L822.56 1263.75 L814.34 1265.75 L806.11 1264.5 L797.89 1263.25 L789.67 1259 L781.45 1254 L773.23 1250.25 L765.01 1250.75 L756.78 1253.25 L748.56 1256.5 L740.34 1260.25 L732.12 1266.5 L723.9 1268.25 L715.68 1269.5 L707.46 1269 L699.23 1270.25 L691.01 1269 L682.79 1265.25 L674.57 1262 L666.35 1262 L658.13 1265.25 L649.9 1272 L641.68 1275.75 L633.46 1277.75 L625.24 1275.25 L617.02 1269 L608.8 1265 L600.58 1264.5 L592.35 1265.75 L584.13 1269.5 L575.91 1264.5 L567.69 1264.5 L559.47 1258.25 L551.25 1256.5 L543.03 1253.25 L534.8 1251.5 L526.58 1247.5 L518.36 1246.5 L510.14 1249 L501.92 1248.25 L493.7 1253.25 L485.48 1254 L477.25 1258.25 L469.03 1252.5 L460.81 1250.25 L452.59 1247.5 L444.37 1244.5 L436.15 1242 L427.92 1243.25 L419.7 1249.5 L411.48 1254.5 L403.26 1256.5 L395.04 1259 L386.82 1264 L378.6 1266.5 L370.37 1265.25 L362.15 1267.75 L353.93 1272 L345.71 1277 L337.49 1282 L329.27 1286.25 L321.05 1285 L312.82 1280.75 L304.6 1275.75 L296.38 1272 L288.16 1270.25 L279.94 1267 L271.72 1262.5 L263.49 1258.25 L255.27 1254 L247.05 1255 L238.83 1254.5 L230.61 1254 L222.39 1253.25 L214.17 1256.25 L205.94 1259 L197.72 1257 L189.5 1255.25 L181.28 1251.25 L173.06 1250.25 L164.84 1247 L156.62 1248.25 L148.39 1250.75 L140.17 1253.25 L131.95 1257 L123.73 1260.25 L115.51 1262 L107.29 1260.25 L99.06 1259.5 L90.84 1262 L82.62 1263.75 L74.4 1263.25Z" fill="#ffd700" fill-opacity="0.75" stroke="#ffd700" stroke-opacity="0.75" stroke-width="1.39" stroke-linejoin="round" clip-path="url(#c3)"/>
<path d="M148.5 1361.5 V1120.5 M263.5 1361.5 V1120.5 M403.5 1361.5 V1120.5 M518.5 1361.5 V1120.5 M658.5 1361.5 V1120.5 M773.5 1361.5 V1120.5 M904.5 1361.5 V1120.5 M1019.5 1361.5 V1120.5 M1159.5 1361.5 V1120.5 M74.5 1150.5H1167.5 M74.5 1181.5H1167.5 M74.5 1211.5H1167.5 M74.5 1241.5H1167.5 M74.5 1271.5H1167.5 M74.5 1301.5H1167.5 M74.5 1331.5H1167.5" stroke="#b0b0b0" stroke-width="1.11" stroke-dasharray="4.11 1.78" fill="none"/>
<path d="M74.5 1241.5H1167.5" stroke="#000" stroke-width="0.72" fill="none"/>
<g clip-path="url(#c3)" fill="none" stroke-linejoin="round">
<path d="M74.4 1206.25 L82.62 1203 L90.84 1196.5 L99.06 1198.25 L107.29 1200.5 L115.51 1202 L123.73 1201.25 L131.95 1195 L140.17 1198.75 L148.39 1194.5 L156.62 1195.75 L164.84 1187.5 L173.06 1187 L181.28 1188.75 L189.5 1194.5 L197.72 1198 L205.94 1189.25 L214.17 1191.25 L222.39 1190.5 L230.61 1194.5 L238.83 1193 L247.05 1193.25 L255.27 1193.75 L263.49 1197.5 L271.72 1198.75 L279.94 1200.75 L288.16 1205.5 L296.38 1210 L304.6 1219.25 L312.82 1215.5 L321.05 1214.25 L329.27 1203.75 L337.49 1202.5 L345.71 1192.5 L353.93 1194.5 L362.15 1189.5 L370.37 1194.25 L378.6 1193.25 L386.82 1197.5 L395.04 1193 L403.26 1191.75 L411.48 1184.5 L419.7 1189.25 L427.92 1181.75 L436.15 1186.25 L444.37 1187.5 L452.59 1188 L460.81 1185.75 L469.03 1183.25 L477.25 1189.25 L485.48 1190.5 L493.7 1187 L501.92 1188.75 L510.14 1194.5 L518.36 1200.5 L526.58 1196.75 L534.8 1196.25 L543.03 1198 L551.25 1206.25 L559.47 1201.25 L567.69 1200 L575.91 1197 L584.13 1204.25 L592.35 1199.25 L600.58 1194.25 L608.8 1190 L617.02 1200 L625.24 1207.5 L633.46 1212.5 L641.68 1209.5 L649.9 1206.75 L658.13 1199.5 L666.35 1199.25 L674.57 1200.5 L682.79 1204.25 L691.01 1208.75 L699.23 1204.5 L707.46 1207.5 L715.68 1206.25 L723.9 1212.5 L732.12 1205.75 L740.34 1199.5 L748.56 1195.5 L756.78 1191.75 L765.01 1193.25 L773.23 1193 L781.45 1195.75 L789.67 1197 L797.89 1200.75 L806.11 1205.75 L814.34 1211.25 L822.56 1212 L830.78 1215.5 L839 1213 L847.22 1214.25 L855.44 1213.25 L863.66 1215 L871.89 1208.75 L880.11 1203.25 L888.33 1204.5 L896.55 1208.25 L904.77 1213 L912.99 1205.5 L921.21 1198.25 L929.44 1196.25 L937.66 1190.75 L945.88 1197.5 L954.1 1199.25 L962.32 1208.4 L970.54 1206.6 L978.77 1206 L986.99 1204 L995.21 1201.6 L1003.43 1199.4 L1011.65 1194 L1019.87 1193.4 L1028.09 1190 L1036.32 1198 L1044.54 1208 L1052.76 1214.4 L1060.98 1221.6 L1069.2 1221 L1077.42 1226 L1085.64 1226.6 L1093.87 1225.4 L1102.09 1229 L1110.31 1227.4 L1118.53 1234.4 L1126.75 1233.4 L1134.97 1234.6 L1143.2 1234.2 L1151.42 1234.2 L1159.64 1237 L1167.86 1235.4" stroke="#ff0000" stroke-width="1.1"/>
<path d="M74.4 1282.5 L82.62 1284.25 L90.84 1284.5 L99.06 1290 L107.29 1298 L115.51 1300 L123.73 1296.25 L131.95 1294.5 L140.17 1290.75 L148.39 1287 L156.62 1273.25 L164.84 1268.25 L173.06 1271.25 L181.28 1278 L189.5 1291.25 L197.72 1299.5 L205.94 1297.5 L214.17 1290.75 L222.39 1278 L230.61 1282.5 L238.83 1279.25 L247.05 1281.75 L255.27 1275 L263.49 1285 L271.72 1288 L279.94 1291.75 L288.16 1286.75 L296.38 1287.5 L304.6 1301.25 L312.82 1308 L321.05 1315.75 L329.27 1307 L337.49 1300 L345.71 1293.75 L353.93 1290.5 L362.15 1292.5 L370.37 1291.25 L378.6 1294.5 L386.82 1286.75 L395.04 1280 L403.26 1273.75 L411.48 1271.75 L419.7 1267.5 L427.92 1256.75 L436.15 1263 L444.37 1264.5 L452.59 1272.5 L460.81 1267.5 L469.03 1279.5 L477.25 1285 L485.48 1280.5 L493.7 1282.5 L501.92 1274.25 L510.14 1274.25 L518.36 1261.25 L526.58 1263 L534.8 1266.75 L543.03 1270 L551.25 1271.25 L559.47 1275.75 L567.69 1282 L575.91 1289.5 L584.13 1292 L592.35 1290.5 L600.58 1288.75 L608.8 1291.25 L617.02 1300 L625.24 1303.75 L633.46 1300.75 L641.68 1292.5 L649.9 1288.75 L658.13 1288.75 L666.35 1288.25 L674.57 1293.25 L682.79 1291.75 L691.01 1301.25 L699.23 1294.5 L707.46 1297.5 L715.68 1293.75 L723.9 1297.5 L732.12 1295 L740.34 1288.75 L748.56 1276.25 L756.78 1276.5 L765.01 1277.5 L773.23 1280 L781.45 1279.25 L789.67 1279.5 L797.89 1285 L806.11 1289.5 L814.34 1290 L822.56 1287.5 L830.78 1285.75 L839 1283 L847.22 1283.25 L855.44 1287.5 L863.66 1295 L871.89 1310.75 L880.11 1315.75 L888.33 1323.25 L896.55 1328.75 L904.77 1325.5 L912.99 1312.5 L921.21 1290.75 L929.44 1280.75 L937.66 1288.25 L945.88 1287.5 L954.1 1290.5 L962.32 1279 L970.54 1278 L978.77 1277 L986.99 1280.6 L995.21 1282.6 L1003.43 1287.6 L1011.65 1292.6 L1019.87 1297 L1028.09 1304.4 L1036.32 1310.4 L1044.54 1324 L1052.76 1337 L1060.98 1341.6 L1069.2 1342 L1077.42 1328.6 L1085.64 1324 L1093.87 1311.4 L1102.09 1307.4 L1110.31 1310 L1118.53 1317 L1126.75 1320.6 L1134.97 1317.6 L1143.2 1311.6 L1151.42 1315.4 L1159.64 1316.6 L1167.86 1320.6" stroke="#ff0000" stroke-width="1.1"/>
<path d="M74.4 1243.75 L82.62 1243.75 L90.84 1241.25 L99.06 1238 L107.29 1238 L115.51 1240 L123.73 1238.75 L131.95 1235 L140.17 1232 L148.39 1229.5 L156.62 1229.25 L164.84 1228.75 L173.06 1231.75 L181.28 1231.75 L189.5 1235 L197.72 1236.25 L205.94 1237.5 L214.17 1235.5 L222.39 1233 L230.61 1233.25 L238.83 1233.75 L247.05 1234.25 L255.27 1233.75 L263.49 1238 L271.72 1242 L279.94 1246.25 L288.16 1250 L296.38 1253.25 L304.6 1255.5 L312.82 1257.5 L321.05 1260.5 L329.27 1261.25 L337.49 1257 L345.71 1252 L353.93 1247.5 L362.15 1242.5 L370.37 1241.75 L378.6 1241.25 L386.82 1240.75 L395.04 1236.25 L403.26 1234.5 L411.48 1232.5 L419.7 1230.75 L427.92 1224.25 L436.15 1222.75 L444.37 1225.5 L452.59 1227 L460.81 1228.75 L469.03 1229.25 L477.25 1235 L485.48 1232.5 L493.7 1232.5 L501.92 1229.5 L510.14 1231.75 L518.36 1231.25 L526.58 1231.25 L534.8 1233.25 L543.03 1233.75 L551.25 1238.75 L559.47 1240 L567.69 1244.5 L575.91 1243.25 L584.13 1248 L592.35 1245 L600.58 1243 L608.8 1242 L617.02 1245 L625.24 1251.25 L633.46 1254.5 L641.68 1255 L649.9 1252.5 L658.13 1244.5 L666.35 1242 L674.57 1241.25 L682.79 1245.5 L691.01 1248.25 L699.23 1249.25 L707.46 1247.75 L715.68 1248.25 L723.9 1248 L732.12 1245 L740.34 1239.25 L748.56 1235.75 L756.78 1233 L765.01 1231.5 L773.23 1231.25 L781.45 1235.5 L789.67 1240 L797.89 1243.75 L806.11 1245 L814.34 1246.75 L822.56 1245.5 L830.78 1245 L839 1242.5 L847.22 1244.5 L855.44 1248.75 L863.66 1252.5 L871.89 1256.25 L880.11 1259.25 L888.33 1262.5 L896.55 1265 L904.77 1263 L912.99 1254.5 L921.21 1245 L929.44 1237.5 L937.66 1240.5 L945.88 1239.5 L954.1 1239.5 L962.32 1236.4 L970.54 1238.4 L978.77 1237.6 L986.99 1237 L995.21 1235.4 L1003.43 1239 L1011.65 1242.4 L1019.87 1245 L1028.09 1247 L1036.32 1252.4 L1044.54 1261.4 L1052.76 1269 L1060.98 1277 L1069.2 1282 L1077.42 1280 L1085.64 1274.6 L1093.87 1265 L1102.09 1265 L1110.31 1270 L1118.53 1275 L1126.75 1276.4 L1134.97 1274.4 L1143.2 1274 L1151.42 1274 L1159.64 1271.6 L1167.86 1270" stroke="#0000ff" stroke-width="2.1"/>
<path d="M74.4 1232.25 L82.62 1232.75 L90.84 1235.5 L99.06 1240 L107.29 1242.5 L115.51 1244 L123.73 1244.75 L131.95 1245.5 L140.17 1241 L148.39 1230.5 L156.62 1218 L164.84 1210.5 L173.06 1207.5 L181.28 1205 L189.5 1203.25 L197.72 1200.75 L205.94 1201.5 L214.17 1204.75 L222.39 1209.5 L230.61 1213 L238.83 1217.75 L247.05 1229 L255.27 1246 L263.49 1263 L271.72 1270.5 L279.94 1268 L288.16 1264.5 L296.38 1261.25 L304.6 1260.25 L312.82 1261 L321.05 1266.25 L329.27 1268.5 L337.49 1256.5 L345.71 1242 L353.93 1236.5 L362.15 1237 L370.37 1235.25 L378.6 1228.75 L386.82 1227 L395.04 1226.5 L403.26 1221.25 L411.48 1210.25 L419.7 1199.75 L427.92 1197 L436.15 1199 L444.37 1204.75 L452.59 1209.5 L460.81 1212.5 L469.03 1213.5 L477.25 1211.5 L485.48 1212.75 L493.7 1215.75 L501.92 1221.25 L510.14 1225.25 L518.36 1230.75 L526.58 1238 L534.8 1248.75 L543.03 1261.75 L551.25 1274.25 L559.47 1282.75 L567.69 1285 L575.91 1282.5 L584.13 1276.25 L592.35 1266.5 L600.58 1257 L608.8 1253.25 L617.02 1249.5 L625.24 1241.25 L633.46 1231.25 L641.68 1229.25 L649.9 1233 L658.13 1235.5 L666.35 1235.5 L674.57 1239 L682.79 1246 L691.01 1251.75 L699.23 1255.75 L707.46 1255 L715.68 1252 L723.9 1247.25 L732.12 1249 L740.34 1258.5 L748.56 1268.75 L756.78 1270.5 L765.01 1265.75 L773.23 1261.75 L781.45 1261 L789.67 1261.25 L797.89 1263 L806.11 1264.75 L814.34 1266.5 L822.56 1264.75 L830.78 1263 L839 1261 L847.22 1256.75 L855.44 1249.75 L863.66 1240.5 L871.89 1232.25 L880.11 1227.5 L888.33 1231 L896.55 1238.5 L904.77 1240.25 L912.99 1228.5 L921.21 1215 L929.44 1214 L937.66 1219 L945.88 1219.25 L954.1 1211.25 L962.32 1207.4 L970.54 1204 L978.77 1205 L986.99 1208.4 L995.21 1222 L1003.43 1234 L1011.65 1243 L1019.87 1252 L1028.09 1265 L1036.32 1276 L1044.54 1282.4 L1052.76 1285.4" stroke="#000" stroke-width="2.8" stroke-linecap="square"/>
</g>
<rect x="74.5" y="1120.5" width="1093" height="241" fill="none" stroke="#000" stroke-width="1.11"/>
<path d="M148.5 1361.5v4.9 M263.5 1361.5v4.9 M403.5 1361.5v4.9 M518.5 1361.5v4.9 M658.5 1361.5v4.9 M773.5 1361.5v4.9 M904.5 1361.5v4.9 M1019.5 1361.5v4.9 M1159.5 1361.5v4.9 M74.5 1120.5h-4.9 M74.5 1150.5h-4.9 M74.5 1181.5h-4.9 M74.5 1211.5h-4.9 M74.5 1241.5h-4.9 M74.5 1271.5h-4.9 M74.5 1301.5h-4.9 M74.5 1331.5h-4.9 M74.5 1361.5h-4.9" stroke="#000" stroke-width="1.11" fill="none"/>
<text y="1382" font-size="14.31" fill="#000"><tspan x="129.08" textLength="17.67" lengthAdjust="spacingAndGlyphs">01</tspan> <tspan x="151.17" textLength="16.76" lengthAdjust="spacingAndGlyphs">Jul</tspan></text>
<text y="1382" font-size="14.31" fill="#000"><tspan x="244.08" textLength="17.67" lengthAdjust="spacingAndGlyphs">15</tspan> <tspan x="266.17" textLength="16.76" lengthAdjust="spacingAndGlyphs">Jul</tspan></text>
<text y="1382" font-size="14.31" fill="#000"><tspan x="378.9" textLength="17.67" lengthAdjust="spacingAndGlyphs">01</tspan> <tspan x="400.98" textLength="27.12" lengthAdjust="spacingAndGlyphs">Aug</tspan></text>
<text y="1382" font-size="14.31" fill="#000"><tspan x="493.9" textLength="17.67" lengthAdjust="spacingAndGlyphs">15</tspan> <tspan x="515.98" textLength="27.12" lengthAdjust="spacingAndGlyphs">Aug</tspan></text>
<text y="1382" font-size="14.31" fill="#000"><tspan x="634.37" textLength="17.67" lengthAdjust="spacingAndGlyphs">01</tspan> <tspan x="656.46" textLength="26.18" lengthAdjust="spacingAndGlyphs">Sep</tspan></text>
<text y="1382" font-size="14.31" fill="#000"><tspan x="749.37" textLength="17.67" lengthAdjust="spacingAndGlyphs">15</tspan> <tspan x="771.46" textLength="26.18" lengthAdjust="spacingAndGlyphs">Sep</tspan></text>
<text y="1382" font-size="14.31" fill="#000"><tspan x="881.45" textLength="17.67" lengthAdjust="spacingAndGlyphs">01</tspan> <tspan x="903.54" textLength="24.01" lengthAdjust="spacingAndGlyphs">Oct</tspan></text>
<text y="1382" font-size="14.31" fill="#000"><tspan x="996.45" textLength="17.67" lengthAdjust="spacingAndGlyphs">15</tspan> <tspan x="1018.54" textLength="24.01" lengthAdjust="spacingAndGlyphs">Oct</tspan></text>
<text y="1382" font-size="14.31" fill="#000"><tspan x="1134.9" textLength="17.67" lengthAdjust="spacingAndGlyphs">01</tspan> <tspan x="1156.99" textLength="27.11" lengthAdjust="spacingAndGlyphs">Nov</tspan></text>
<text y="1125.6" font-size="14.31" fill="#000"><tspan x="56.16" textLength="8.84" lengthAdjust="spacingAndGlyphs">4</tspan></text>
<text y="1155.6" font-size="14.31" fill="#000"><tspan x="56.16" textLength="8.84" lengthAdjust="spacingAndGlyphs">3</tspan></text>
<text y="1186.6" font-size="14.31" fill="#000"><tspan x="56.16" textLength="8.84" lengthAdjust="spacingAndGlyphs">2</tspan></text>
<text y="1216.6" font-size="14.31" fill="#000"><tspan x="56.16" textLength="8.84" lengthAdjust="spacingAndGlyphs">1</tspan></text>
<text y="1246.6" font-size="14.31" fill="#000"><tspan x="56.16" textLength="8.84" lengthAdjust="spacingAndGlyphs">0</tspan></text>
<text y="1276.6" font-size="14.31" fill="#000"><tspan x="43.13" textLength="20.47" lengthAdjust="spacingAndGlyphs">−1</tspan></text>
<text y="1306.6" font-size="14.31" fill="#000"><tspan x="43.13" textLength="20.47" lengthAdjust="spacingAndGlyphs">−2</tspan></text>
<text y="1336.6" font-size="14.31" fill="#000"><tspan x="43.13" textLength="20.47" lengthAdjust="spacingAndGlyphs">−3</tspan></text>
<text y="1366.6" font-size="14.31" fill="#000"><tspan x="43.13" textLength="20.47" lengthAdjust="spacingAndGlyphs">−4</tspan></text>
<text y="1244.2" font-size="22.89" fill="#000" transform="rotate(-90 34 1244.2)"><tspan x="3.41" textLength="61.18" lengthAdjust="spacingAndGlyphs">Index</tspan></text>
<text y="1111.5" font-size="25.75" fill="#000"><tspan x="74.5" textLength="87.94" lengthAdjust="spacingAndGlyphs">500mb</tspan> <tspan x="170.39" textLength="17.13" lengthAdjust="spacingAndGlyphs">Z</tspan> <tspan x="195.46" textLength="41.57" lengthAdjust="spacingAndGlyphs">(14</tspan> <tspan x="244.97" textLength="45.98" lengthAdjust="spacingAndGlyphs">day</tspan> <tspan x="298.9" textLength="115.54" lengthAdjust="spacingAndGlyphs">Forecast)</tspan></text>
<text y="1111.5" font-size="21.46" fill="#000"><tspan x="796.65" textLength="163.97" lengthAdjust="spacingAndGlyphs">mean=-0.0322;</tspan> <tspan x="967.24" textLength="200.26" lengthAdjust="spacingAndGlyphs">cor(w/obs)=0.5006</tspan></text>
</g>
</svg>
</body>
</html>
